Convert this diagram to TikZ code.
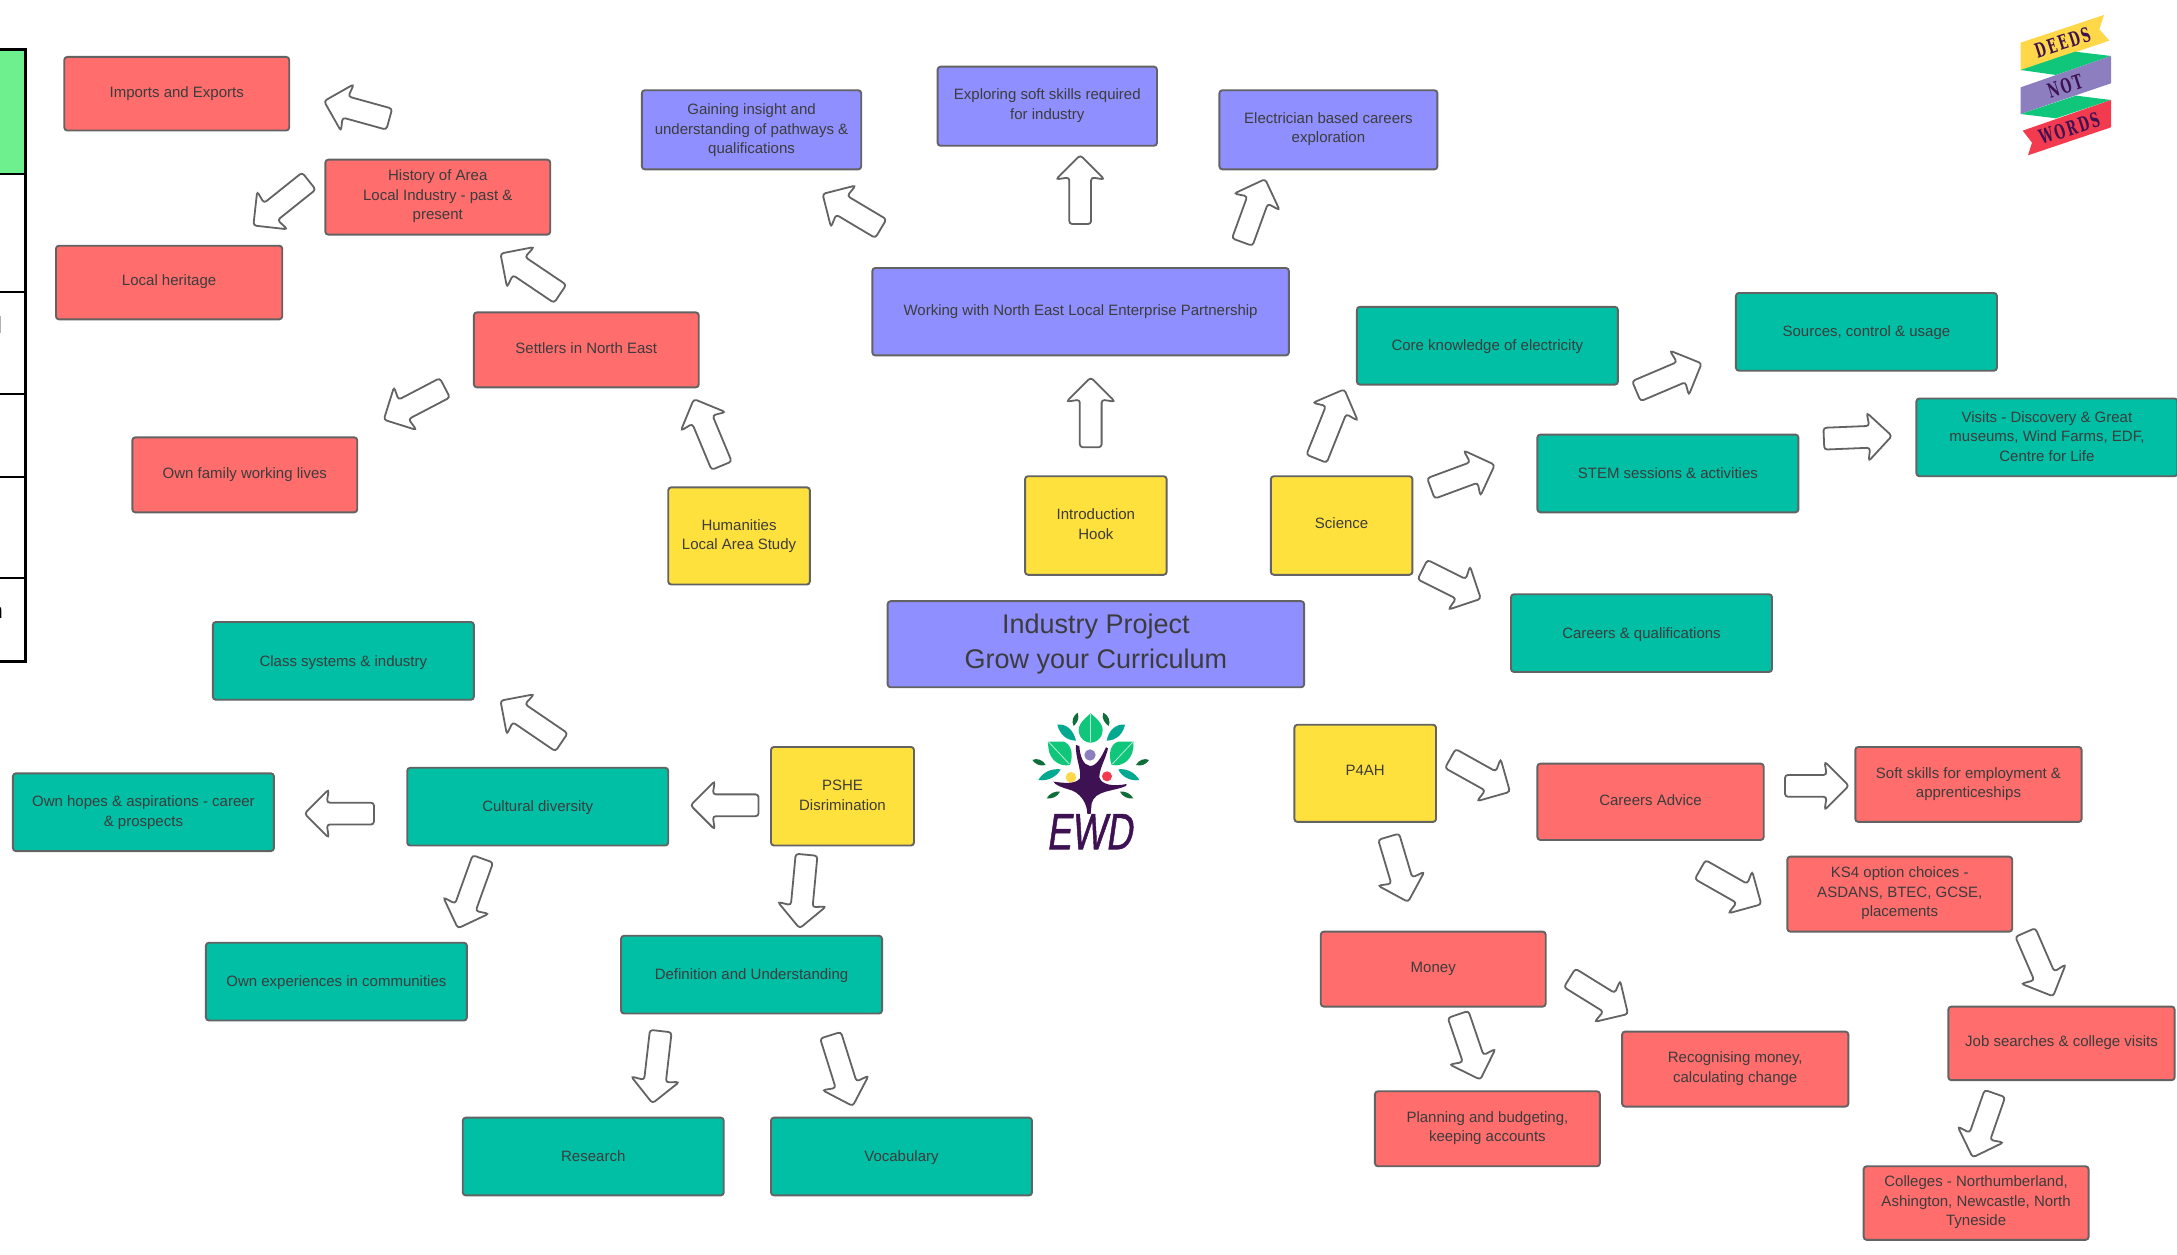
\documentclass[tikz,border=0pt]{standalone}
\usepackage{fontspec}
\setmainfont{Liberation Sans}
\newfontfamily\slab[LetterSpace=10,FakeStretch=0.62]{DejaVu Serif}
\newfontfamily\ewdfont[FakeBold=1.2,FakeSlant=0.2]{Liberation Sans}
\usetikzlibrary{shapes.arrows}
\definecolor{cred}{HTML}{FF6D6D}
\definecolor{cteal}{HTML}{00BFA5}
\definecolor{cpurp}{HTML}{8F8FFF}
\definecolor{cyell}{HTML}{FFE13E}
\definecolor{cedge}{HTML}{636363}
\definecolor{ctxt}{HTML}{3C3C3C}
\definecolor{plum}{HTML}{3D1152}
\definecolor{lfa}{HTML}{10C67A}
\definecolor{lfb}{HTML}{00A98F}
\definecolor{lfc}{HTML}{0F6E3A}
\definecolor{bany}{HTML}{FFD84A}
\definecolor{bang}{HTML}{10C67A}
\definecolor{banp}{HTML}{8D7FBF}
\definecolor{banr}{HTML}{F23B4F}
\definecolor{tgreen}{HTML}{6EF08F}
\tikzset{
  txtdepth/.store in=\txtdp,
  bxbase/.style={draw=cedge,line width=1.9pt,rounded corners=3pt,align=center,inner sep=0pt,
     text=ctxt,font=\fontsize{15}{19.5}\selectfont},
  redbox/.style={bxbase,fill=cred,txtdepth=.357},
  tealbox/.style={bxbase,fill=cteal,txtdepth=.17},
  purpbox/.style={bxbase,fill=cpurp,txtdepth=.357},
  yellbox/.style={bxbase,fill=cyell,txtdepth=.43},
  titlebox/.style={bxbase,fill=cpurp,txtdepth=.34,font=\fontsize{27}{35}\selectfont},
  blockarrow/.style={draw=cedge,fill=white,line width=1.8pt,single arrow,rounded corners=3pt,
     inner xsep=0pt,inner ysep=8.5pt,minimum width=48.5pt,single arrow head extend=11.5pt,
     single arrow head indent=2pt,anchor=tail},
  bannertext/.style={text=plum,font=\slab\bfseries\fontsize{20}{20}\selectfont,rotate=18,inner sep=0pt},
}
\newcommand{\bx}[7]{%
  \pgfmathsetmacro\bw{(#6-#4)*1.3884}%
  \pgfmathsetmacro\bh{(#7-#5)*1.3884}%
  \pgfmathsetmacro\bcx{(#6+#4)/2+0.3}%
  \pgfmathsetmacro\bcy{(#7+#5)/2}%
  \node[#2,minimum width=\bw pt,minimum height=\bh pt] (#1) at (\bcx,\bcy)
    {\rule{0pt}{.7\baselineskip}#3\rule[-\txtdp\baselineskip]{0pt}{0pt}};}
\newcommand{\arw}[5]{%
  \pgfmathsetmacro\alen{sqrt((#4-#2)*(#4-#2)+(#5-#3)*(#5-#3))*1.3884}%
  \pgfmathsetmacro\aang{atan2(-(#5-#3),#4-#2)}%
  \node[blockarrow,minimum height=\alen pt,rotate=\aang] (#1) at (#2,#3) {};}
\begin{document}
\begin{tikzpicture}[x=1.3884pt,y=-1.3884pt]
\useasboundingbox (0pt,0pt) rectangle (2177pt,-1255pt);
\clip (0pt,0pt) rectangle (2177pt,-1255pt);
\fill[white] (0pt,0pt) rectangle (2177pt,-1255pt);
% cut-off table at the left edge
\fill[tgreen] (-5pt,-50pt) rectangle (25pt,-174pt);
\fill[gray!60] (-2pt,-316pt) rectangle (1pt,-333pt);
\node[anchor=east,inner sep=0pt,text=black,font=\fontsize{22}{22}\selectfont] (tablefrag) at (3pt,-613pt) {n};
\draw[black,line width=2.6pt] (-5pt,-174pt) -- (25pt,-174pt) (-5pt,-292pt) -- (25pt,-292pt)
   (-5pt,-394pt) -- (25pt,-394pt) (-5pt,-477pt) -- (25pt,-477pt) (-5pt,-578pt) -- (25pt,-578pt);
\draw[black,line width=3pt] (-5pt,-50pt) -- (25.5pt,-50pt) -- (25.5pt,-661pt) -- (-5pt,-661pt);

% boxes
\bx{imports}{redbox}{Imports and Exports}{46}{41}{208}{94}
\bx{history}{redbox}{History of Area\\Local Industry - past \&\\present}{234}{115}{396}{169}
\bx{heritage}{redbox}{Local heritage}{40}{177}{203}{230}
\bx{settlers}{redbox}{Settlers in North East}{341}{225}{503}{279}
\bx{family}{redbox}{Own family working lives}{95}{315}{257}{369}
\bx{humanities}{yellbox,txtdepth=.29}{Humanities\\Local Area Study}{481}{351}{583}{421}
\bx{intro}{yellbox,txtdepth=.29}{Introduction\\Hook}{738}{343}{840}{414}
\bx{science}{yellbox}{Science}{915}{343}{1017}{414}
\bx{title}{titlebox}{Industry Project\\Grow your Curriculum}{639}{433}{939}{495}
\bx{working}{purpbox}{Working with North East Local Enterprise Partnership}{628}{193}{928}{256}
\bx{gaining}{purpbox,txtdepth=.25}{Gaining insight and\\understanding of pathways \&\\qualifications}{462}{65}{620}{122}
\bx{exploring}{purpbox}{Exploring soft skills required\\for industry}{675}{48}{833}{105}
\bx{electrician}{purpbox}{Electrician based careers\\exploration}{878}{65}{1035}{122}
\bx{core}{tealbox}{Core knowledge of electricity}{977}{221}{1165}{277}
\bx{sources}{tealbox}{Sources, control \& usage}{1250}{211}{1438}{267}
\bx{stem}{tealbox}{STEM sessions \& activities}{1107}{313}{1295}{369}
\bx{visits}{tealbox,txtdepth=.27}{Visits - Discovery \& Great\\museums, Wind Farms, EDF,\\Centre for Life}{1380}{287}{1568}{343}
\bx{careersq}{tealbox}{Careers \& qualifications}{1088}{428}{1276}{484}
\bx{pfah}{yellbox}{P4AH}{932}{522}{1034}{592}
\bx{advice}{redbox}{Careers Advice}{1107}{550}{1270}{605}
\bx{soft}{redbox}{Soft skills for employment \&\\apprenticeships}{1336}{538}{1499}{592}
\bx{ksfour}{redbox}{KS4 option choices -\\ASDANS, BTEC, GCSE,\\placements}{1287}{617}{1449}{671}
\bx{money}{redbox}{Money}{951}{671}{1113}{725}
\bx{job}{redbox}{Job searches \& college visits}{1403}{725}{1566}{778}
\bx{recog}{redbox}{Recognising money,\\calculating change}{1168}{743}{1331}{797}
\bx{planning}{redbox}{Planning and budgeting,\\keeping accounts}{990}{786}{1152}{840}
\bx{colleges}{redbox}{Colleges - Northumberland,\\Ashington, Newcastle, North\\Tyneside}{1342}{840}{1504}{893}
\bx{pshe}{yellbox,txtdepth=.29}{PSHE\\Disrimination}{555}{538}{658}{609}
\bx{class}{tealbox}{Class systems \& industry}{153}{448}{341}{504}
\bx{cultural}{tealbox}{Cultural diversity}{293}{553}{481}{609}
\bx{hopes}{tealbox,txtdepth=.26}{Own hopes \& aspirations - career\\\& prospects}{9}{557}{197}{613}
\bx{experiences}{tealbox}{Own experiences in communities}{148}{679}{336}{735}
\bx{definition}{tealbox}{Definition and Understanding}{447}{674}{635}{730}
\bx{research}{tealbox}{Research}{333}{805}{521}{861}
\bx{vocab}{tealbox}{Vocabulary}{555}{805}{743}{861}

% block arrows
\arw{aa}{281}{86}{234}{73}
\arw{ab}{223}{130}{183}{162}
\arw{ac}{404}{212}{361}{183}
\arw{ad}{321}{279}{277}{302}
\arw{ae}{520}{336}{500}{288}
\arw{af}{635}{165}{593}{140}
\arw{ag}{778}{162}{778}{112.4}
\arw{ah}{894.5}{175}{911}{129.6}
\arw{ai}{785.6}{322.8}{785.6}{272.5}
\arw{aj}{948}{331}{968}{281}
\arw{ak}{1030}{352}{1076}{335}
\arw{al}{1024}{410}{1066}{431}
\arw{am}{1178}{282}{1225}{262}
\arw{an}{1313}{316}{1362}{314}
\arw{ao}{1044}{546}{1087}{570}
\arw{ap}{1285}{566}{1331}{566}
\arw{aq}{1224}{626}{1268}{651}
\arw{ar}{1458.5}{671}{1478.5}{717}
\arw{as}{1000}{602}{1014}{649}
\arw{at}{1130}{704}{1172}{730}
\arw{au}{1050}{730}{1066}{777}
\arw{av}{1437}{787}{1421}{833}
\arw{aw}{547}{580}{498}{580}
\arw{ax}{270}{586}{220}{586}
\arw{ay}{405}{535}{361}{505}
\arw{az}{348}{618}{330}{668}
\arw{ba}{581}{615}{576}{668}
\arw{bb}{476}{742}{470}{794}
\arw{bc}{598}{745}{614}{796}

% Deeds Not Words banner
\begin{scope}[x=.3333pt,y=-.3333pt,shift={(1950pt,0pt)}]
\fill[bany] (212,128) -- (462,45) -- (448,88) -- (478,122) -- (212,212) -- cycle;
\fill[bang] (212,210) -- (375,155) -- (483,168) -- (318,225) -- cycle;
\fill[banp] (212,262) -- (483,168) -- (483,250) -- (212,342) -- cycle;
\fill[bang] (212,342) -- (378,287) -- (483,300) -- (318,355) -- cycle;
\fill[banr] (218,392) -- (483,300) -- (483,382) -- (234,466) -- (246,428) -- cycle;
\node[bannertext] (deeds) at (338,128) {DEEDS};
\node[bannertext] (not) at (345,258) {NOT};
\node[bannertext] (wordstxt) at (358,385) {WORDS};
\end{scope}

% EWD logo
\begin{scope}[x=.3333pt,y=-.3333pt,shift={(980pt,-690pt)}]
\fill[lfa] (332,70) .. controls (355,90) and (372,105) .. (367,128) .. controls (362,150) and (345,158) .. (332,158) .. controls (319,158) and (302,150) .. (297,128) .. controls (292,105) and (309,90) .. (332,70) -- cycle;
\draw[white!70!lfa,line width=.8pt] (332,72) -- (332,156);
\fill[lfa] (205,155) -- (250,155) .. controls (272,160) and (282,190) .. (270,225) .. controls (235,232) and (200,205) .. (205,155) -- cycle;
\draw[white!70!lfa,line width=.8pt] (207,157) -- (268,222);
\fill[lfa] (460,155) -- (415,155) .. controls (393,160) and (383,190) .. (395,225) .. controls (430,232) and (465,205) .. (460,155) -- cycle;
\draw[white!70!lfa,line width=.8pt] (458,157) -- (397,222);
\fill[lfb] (232,104) .. controls (262,100) and (282,125) .. (288,152) .. controls (258,152) and (238,130) .. (232,104) -- cycle;
\fill[lfb] (435,104) .. controls (405,100) and (385,125) .. (380,152) .. controls (410,152) and (430,130) .. (435,104) -- cycle;
\fill[lfb] (175,270) .. controls (190,245) and (215,235) .. (242,238) .. controls (232,258) and (205,275) .. (175,270) -- cycle;
\fill[lfb] (478,270) .. controls (463,245) and (438,235) .. (415,238) .. controls (423,258) and (450,275) .. (478,270) -- cycle;
\fill[lfc] (293,68) .. controls (300,85) and (290,100) .. (281,108) .. controls (273,95) and (280,75) .. (293,68) -- cycle;
\fill[lfc] (370,68) .. controls (363,85) and (375,100) .. (386,108) .. controls (393,95) and (385,75) .. (370,68) -- cycle;
\fill[lfc] (157,210) .. controls (170,203) and (190,210) .. (197,225) .. controls (180,230) and (165,222) .. (157,210) -- cycle;
\fill[lfc] (507,210) .. controls (495,203) and (475,210) .. (468,225) .. controls (485,230) and (500,222) .. (507,210) -- cycle;
\fill[lfc] (200,325) .. controls (208,310) and (225,303) .. (240,305) .. controls (233,320) and (217,327) .. (200,325) -- cycle;
\fill[lfc] (460,325) .. controls (452,310) and (435,303) .. (420,305) .. controls (427,320) and (443,327) .. (460,325) -- cycle;
\fill[banp] (330,195) circle (17);
\fill[bany] (273,262) circle (16);
\fill[banr] (381,259) circle (15);
\fill[plum] (288,165) -- (298,168) .. controls (300,200) and (310,225) .. (330,228) .. controls (350,228) and (365,200) .. (378,172) -- (384,175) .. controls (378,205) and (358,235) .. (358,262) .. controls (365,285) and (400,290) .. (440,282) -- (438,288) .. controls (400,305) and (345,300) .. (335,340) -- (332,372) -- (322,372) .. controls (322,340) and (300,305) .. (265,298) .. controls (245,292) and (225,285) .. (220,275) .. controls (245,278) and (285,285) .. (300,265) .. controls (305,240) and (285,200) .. (288,165) -- cycle;
\node[inner sep=0pt,text=plum,font=\ewdfont\fontsize{51}{51}\selectfont,xscale=.72] (ewd) at (328,425) {EWD};
\end{scope}
\end{tikzpicture}
\end{document}
